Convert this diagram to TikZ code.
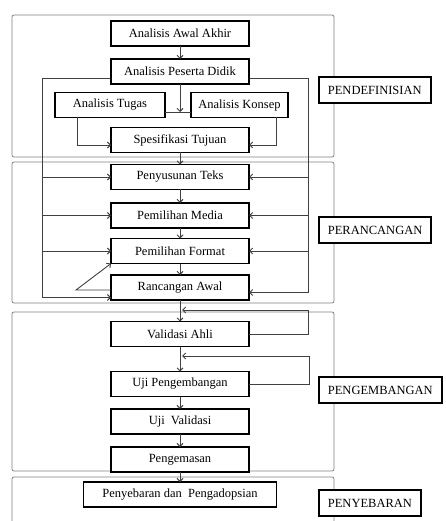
\documentclass[tikz,border=0pt]{standalone}
\usepackage{fontspec}
\setmainfont{Liberation Serif}
\usetikzlibrary{positioning,arrows.meta,backgrounds}
\def\BoxWidth{138pt}
\def\BoxHeight{25pt}

\begin{document}
\begin{tikzpicture}[x=1pt,y=-1pt,
	proc/.style={draw=black,line width=1.8pt,fill=white,minimum width=\BoxWidth,minimum height=\BoxHeight,inner sep=0pt,outer sep=0pt,font=\fontsize{12.5}{14}\selectfont},
	tag/.style={draw=black,line width=1.8pt,fill=white,anchor=west,minimum height=26pt,inner xsep=9pt,font=\fontsize{12.5}{14}\selectfont},
	phase/.style={draw=black!50,line width=0.8pt,rounded corners=2pt},
	link/.style={draw=black!75,line width=0.9pt},
	arr/.style={link,-{Straight Barb[length=3pt,width=6pt]}}]
	\useasboundingbox (0,0) rectangle (445,521);
	% 
	\node[proc] (awal) at (180,33.5) {Analisis Awal Akhir};
	\node[proc,below=13pt of awal] (peserta) {Analisis Peserta Didik};
	\node[proc,minimum width=110pt] (tugas) at (110,105) {Analisis Tugas};
	\node[proc,minimum width=97pt] (konsep) at (239.5,105) {Analisis Konsep};
	\node[proc,below=43.5pt of peserta] (spesifikasi) {Spesifikasi Tujuan};
	\node[proc,below=12pt of spesifikasi] (teks) {Penyusunan Teks};
	\node[proc,below=13.5pt of teks] (media) {Pemilihan Media};
	\node[proc,below=10.5pt of media] (format) {Pemilihan Format};
	\node[proc,below=11.5pt of format] (rancangan) {Rancangan Awal};
	\node[proc,below=21.5pt of rancangan] (validasi) {Validasi Ahli};
	\node[proc,below=25pt of validasi] (ujikembang) {Uji Pengembangan};
	\node[proc,below=12.5pt of ujikembang] (ujivalid) {Uji~~Validasi};
	\node[proc,below=13pt of ujivalid] (kemas) {Pengemasan};
	\node[proc,minimum width=193pt,below=10pt of kemas] (sebar) {Penyebaran dan~~Pengadopsian};
	% 
	\node[tag] (tDefinisi) at (318,90) {PENDEFINISIAN};
	\node[tag] (tRancang) at (318,230) {PERANCANGAN};
	\node[tag] (tKembang) at (318,390) {PENGEMBANGAN};
	\node[tag] (tSebar) at (318,503) {PENYEBARAN};
	% 
	\coordinate (lTop) at (42,78);
	\coordinate (rTop) at (308,78);
	\coordinate (tkJoin) at (180,112);
	\coordinate (fBend) at (76,290);
	\coordinate (vCorner) at (308,310);
	\coordinate (vBack) at (182,310);
	\coordinate (uCorner) at (309,356);
	\coordinate (uBack) at (182,356);
	% 
	\begin{scope}[on background layer]
		\draw[phase] (12,15) rectangle (334,157);
		\draw[phase] (12,162) rectangle (334,303);
		\draw[phase] (12,312) rectangle (334,471);
		\draw[phase] (12,530) |- (334,477) -- (334,530);
		\draw[link] (lTop) -- (rTop);
	\end{scope}
	% 
	\draw[arr] (awal) -- (peserta);
	\draw[link] (tugas.east |- tkJoin) -- (konsep.west |- tkJoin);
	\draw[arr] (peserta) -- (tkJoin);
	\draw[arr] ([xshift=-33pt]tugas.south) |- ([yshift=-5pt]spesifikasi.west);
	\draw[arr] ([xshift=36.5pt]konsep.south) |- ([yshift=-5pt]spesifikasi.east);
	\draw[arr] (spesifikasi) -- (teks);
	\draw[arr] (teks) -- (media);
	\draw[arr] (media) -- (format);
	\draw[arr] (format) -- (rancangan);
	\draw[arr] (rancangan) -- (validasi);
	\draw[arr] (validasi) -- (ujikembang);
	\draw[arr] (ujikembang) -- (ujivalid);
	\draw[arr] (ujivalid) -- (kemas);
	\draw[arr] (kemas) -- (sebar);
	% 
	\foreach \n in {teks,media,format}{
		\draw[arr] (lTop |- \n.west) -- (\n.west);
		\draw[arr] (rTop |- \n.east) -- (\n.east);
	}
	\draw[arr] (lTop) |- ([yshift=-10pt]rancangan.west);
	\draw[arr] (rTop) |- ([yshift=-5pt]rancangan.east);
	\draw[arr] ([yshift=-2.5pt]rancangan.west) -- (fBend) -- (format.south west);
	% 
	\draw[arr] (validasi.east) -| (vCorner) -- (vBack);
	\draw[arr] (ujikembang.east) -| (uCorner) -- (uBack);
\end{tikzpicture}
\end{document}
